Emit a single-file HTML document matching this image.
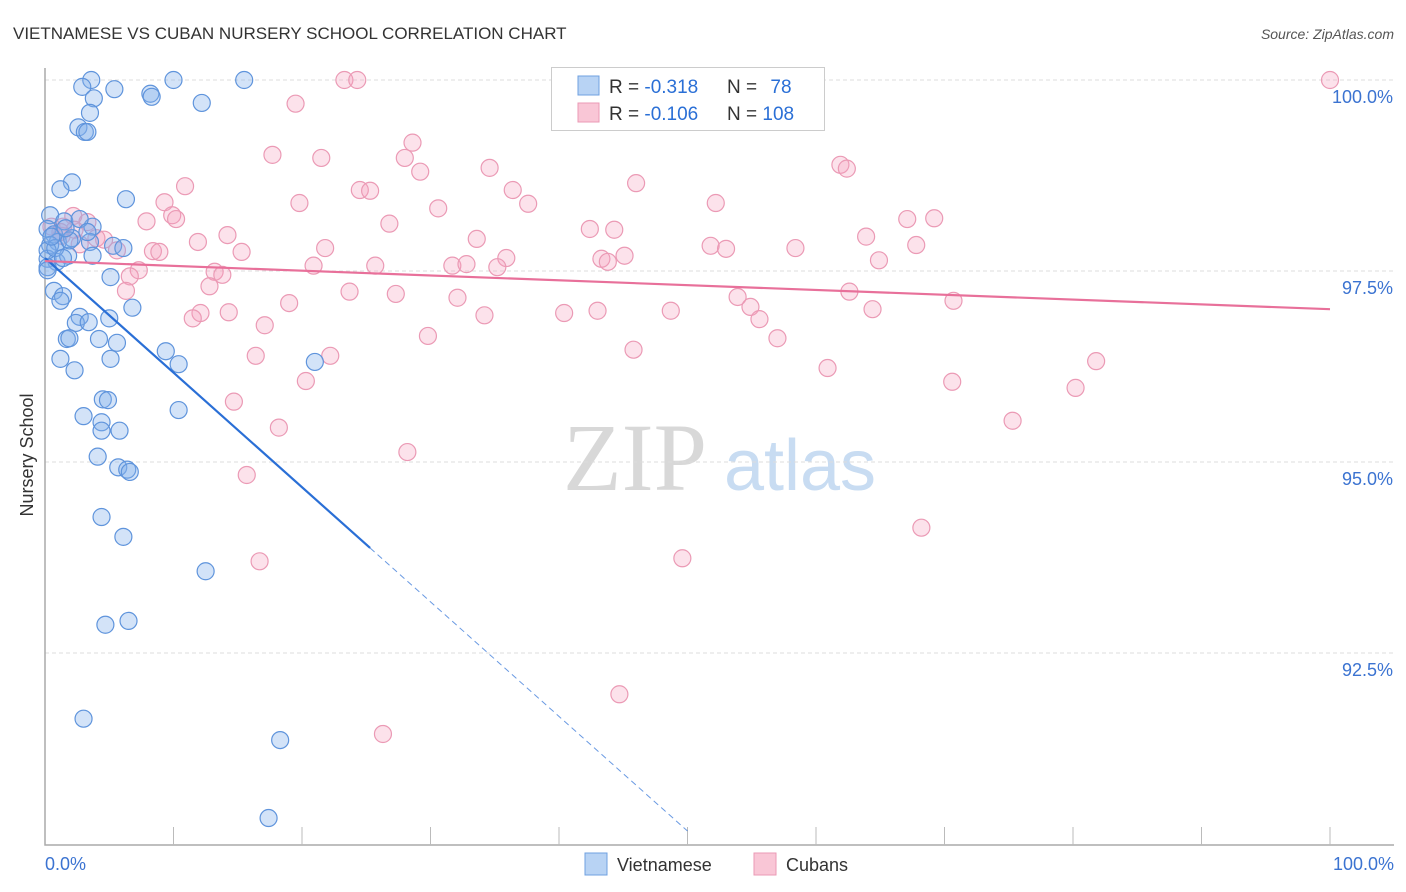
<!DOCTYPE html>
<html><head><meta charset="utf-8"><style>
body{margin:0;background:#fff;font-family:"Liberation Sans",sans-serif}
#c{position:absolute;left:0;top:0}
</style></head><body>
<svg id="c" width="1406" height="892">
<text x="13" y="39" font-size="17" fill="#333">VIETNAMESE VS CUBAN NURSERY SCHOOL CORRELATION CHART</text>
<text x="1394" y="39" font-size="14" fill="#555" font-style="italic" text-anchor="end">Source: ZipAtlas.com</text>
<g>
<text x="635" y="490" font-size="96" font-family="Liberation Serif,serif" fill="#d8d8d8" text-anchor="middle">ZIP</text>
<text x="800" y="490" font-size="72" fill="#c8dcf2" text-anchor="middle">atlas</text>
</g>
<g id="grid"></g>
<g id="axes"></g>
<g id="pts"></g>
<g id="trend"></g>
<text transform="translate(33,455) rotate(-90)" font-size="18" fill="#333" text-anchor="middle">Nursery School</text>
<g>
<rect x="551.5" y="67.5" width="273" height="63" fill="#fff" stroke="#ccc"/>
<rect x="578" y="76" width="21" height="19" fill="#b8d3f4" stroke="#6fa0e0"/>
<rect x="578" y="103" width="21" height="19" fill="#f9c6d6" stroke="#eb9ab5"/>
<text x="609" y="93" font-size="19" fill="#333">R = <tspan fill="#2a6fd6">-0.318</tspan></text>
<text x="727" y="93" font-size="19" fill="#333">N = <tspan fill="#2a6fd6" dx="8">78</tspan></text>
<text x="609" y="120" font-size="19" fill="#333">R = <tspan fill="#2a6fd6">-0.106</tspan></text>
<text x="727" y="120" font-size="19" fill="#333">N = <tspan fill="#2a6fd6">108</tspan></text>
</g>
<g>
<rect x="585" y="853" width="22" height="22" fill="#b8d3f4" stroke="#6fa0e0"/>
<text x="617" y="871" font-size="18" fill="#333">Vietnamese</text>
<rect x="754" y="853" width="22" height="22" fill="#f9c6d6" stroke="#eb9ab5"/>
<text x="786" y="871" font-size="18" fill="#333">Cubans</text>
</g>
</svg>
<script>
const yTicks=[100,97.5,95,92.5];
const yTickLabels=["100.0%","97.5%","95.0%","92.5%"];
const xTickLabels=["0.0%","100.0%"];
const blueX=[3.6,2.9,5.4,3.8,8.2,8.3,10.0,15.5,12.2,3.5,2.6,3.1,3.3,2.1,1.2,6.3,0.4,1.5,3.7,2.7,0.2,0.7,1.0,0.4,2.1,5.3,6.1,3.5,0.2,0.9,1.8,3.7,0.2,5.1,0.7,1.4,1.2,6.8,5.0,2.7,2.4,3.4,1.7,1.9,4.2,5.6,1.2,5.1,2.3,9.4,10.4,21.0,4.5,4.9,3.0,10.4,4.4,4.4,5.8,4.1,5.7,6.4,6.6,4.4,6.1,12.5,4.7,6.5,3.0,18.3,17.4,0.2,0.2,0.8,1.4,1.9,3.3,0.5,1.6];
const blueY=[100.0,99.91,99.88,99.76,99.82,99.78,100.0,100.0,99.70,99.57,99.38,99.32,99.32,98.66,98.57,98.44,98.23,98.15,98.08,98.18,98.05,97.98,97.88,97.84,97.93,97.83,97.80,97.88,97.66,97.62,97.70,97.70,97.55,97.42,97.24,97.17,97.11,97.02,96.88,96.90,96.82,96.83,96.61,96.62,96.61,96.56,96.35,96.35,96.20,96.45,96.28,96.31,95.82,95.81,95.60,95.68,95.52,95.41,95.41,95.07,94.93,94.90,94.87,94.28,94.02,93.57,92.87,92.92,91.64,91.36,90.34,97.77,97.51,97.80,97.67,97.90,98.01,97.95,98.06];
const pinkX=[100,23.3,24.3,19.5,28.6,17.7,21.5,28.0,34.6,29.2,61.9,62.4,10.9,24.5,25.3,46.0,36.4,19.8,9.3,37.6,30.6,52.2,9.9,10.2,7.9,67.1,69.2,26.8,2.2,3.3,0.5,1.4,42.4,44.3,14.2,11.9,33.6,63.9,51.8,53.0,58.4,67.8,4.6,5.6,8.4,8.9,15.3,21.8,35.9,43.3,43.8,45.1,25.7,31.7,32.8,35.2,20.9,64.9,7.3,6.6,13.2,13.8,12.8,6.3,23.7,27.3,32.1,62.6,53.9,54.9,70.7,19.0,14.3,12.1,11.5,17.1,34.2,40.4,43.0,48.7,64.4,55.6,29.8,57.0,45.8,16.4,22.2,81.8,60.9,20.3,70.6,80.2,14.7,18.2,75.3,28.2,15.7,68.2,49.6,16.7,44.7,26.3,1.3,2.7,4.0,1.2,2.3];
const pinkY=[100.0,100.0,100.0,99.69,99.18,99.02,98.98,98.98,98.85,98.80,98.89,98.84,98.61,98.56,98.55,98.65,98.56,98.39,98.40,98.38,98.32,98.39,98.23,98.18,98.15,98.18,98.19,98.12,98.22,98.14,98.08,98.08,98.05,98.04,97.97,97.88,97.92,97.95,97.83,97.79,97.80,97.84,97.91,97.77,97.76,97.75,97.75,97.80,97.67,97.66,97.62,97.70,97.57,97.57,97.59,97.55,97.57,97.64,97.51,97.43,97.49,97.45,97.30,97.24,97.23,97.20,97.15,97.23,97.16,97.03,97.11,97.08,96.96,96.95,96.88,96.79,96.92,96.95,96.98,96.98,97.00,96.87,96.65,96.62,96.47,96.39,96.39,96.32,96.23,96.06,96.05,95.97,95.79,95.45,95.54,95.13,94.83,94.14,93.74,93.70,91.96,91.44,97.96,97.85,97.93,98.01,98.04];
const blueTrend=[97.67,-0.150];
const pinkTrend=[97.63,97.00];
const X=v=>45+v*12.85, Y=v=>80+(100-v)*76.4;
const NS="http://www.w3.org/2000/svg";
function mk(tag,parent,attrs){const e=document.createElementNS(NS,tag);for(const k in attrs)e.setAttribute(k,attrs[k]);parent.appendChild(e);return e;}
const grid=document.getElementById('grid'),axes=document.getElementById('axes'),pts=document.getElementById('pts'),trend=document.getElementById('trend');
yTicks.forEach((t,i)=>{
 const l=mk('line',grid,{x1:45,x2:1394,y1:Y(t),y2:Y(t),stroke:'#ddd','stroke-dasharray':'4,3'});
 
 
 const tx=mk('text',grid,{x:1393,y:Y(t)+23,'font-size':18,fill:'#3b73d1','text-anchor':'end'});
 tx.textContent=yTickLabels[i];
 
 
});
const ax=mk('path',axes,{d:'M45 68V845H1394',stroke:'#aaa',fill:'none','stroke-width':1.5});


for(let i=1;i<=10;i++){const tk=mk('line',axes,{x1:X(i*10),x2:X(i*10),y1:827,y2:845,stroke:'#bbb'});
 
 }
[[0,'start',45],[100,'end',1394]].forEach((a,i)=>{const tx=mk('text',axes,{x:a[2],y:870,'font-size':18,fill:'#3b73d1','text-anchor':a[1]});tx.textContent=xTickLabels[i];
 
 });
function dots(xs,ys,fill,stroke,name){xs.forEach((x,i)=>{const c=mk('circle',pts,{cx:X(x),cy:Y(ys[i]),r:8.5,fill:fill,stroke:stroke,'stroke-width':1.2});
 
 });}
dots(pinkX,pinkY,'rgba(244,160,188,0.3)','#eb9ab5','cuban-point');
dots(blueX,blueY,'rgba(130,175,235,0.35)','#5f94dc','vietnamese-point');
const bx=25.3;
const b1=mk('line',trend,{x1:X(0),y1:Y(blueTrend[0]),x2:X(bx),y2:Y(blueTrend[0]+blueTrend[1]*bx),stroke:'#2a6fd6','stroke-width':2.2});


const b2=mk('line',trend,{x1:X(bx),y1:Y(blueTrend[0]+blueTrend[1]*bx),x2:X(50),y2:Y(blueTrend[0]+blueTrend[1]*50),stroke:'#2a6fd6','stroke-width':1,'stroke-dasharray':'6,4','opacity':0.7});


const p1=mk('line',trend,{x1:X(0),y1:Y(pinkTrend[0]),x2:X(100),y2:Y(pinkTrend[1]),stroke:'#e8709a','stroke-width':2.2});


</script>
</body></html>
